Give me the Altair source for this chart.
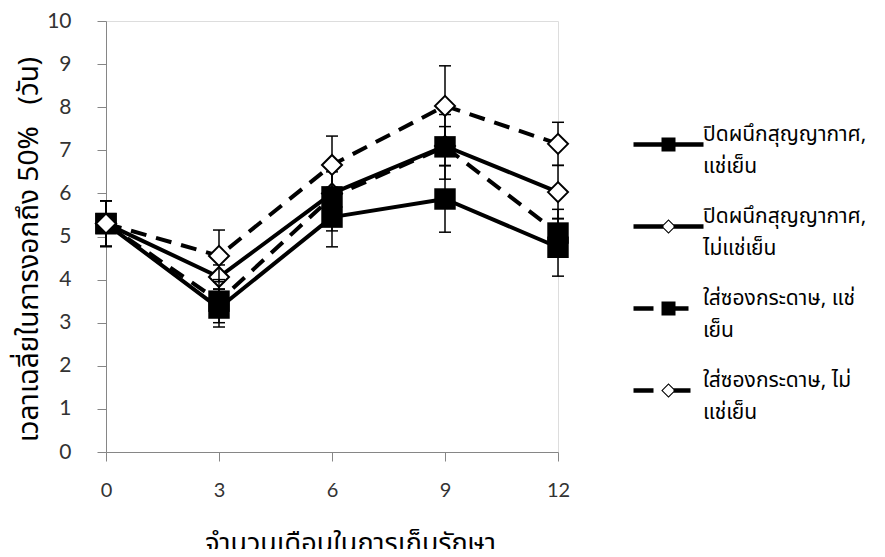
import altair as alt
import pandas as pd

# ---------------- data ----------------
months = [0, 3, 6, 9, 12]

series_names = [
    "ปิดผนึกสุญญากาศ, แช่เย็น",
    "ปิดผนึกสุญญากาศ, ไม่แช่เย็น",
    "ใส่ซองกระดาษ, แช่เย็น",
    "ใส่ซองกระดาษ, ไม่แช่เย็น",
]
legend_lines = [
    ["ปิดผนึกสุญญากาศ,", "แช่เย็น"],
    ["ปิดผนึกสุญญากาศ,", "ไม่แช่เย็น"],
    ["ใส่ซองกระดาษ, แช่", "เย็น"],
    ["ใส่ซองกระดาษ, ไม่", "แช่เย็น"],
]

vac_cold = [5.3, 3.34, 5.45, 5.87, 4.75]
vac_cold_err = [0.53, 0.44, 0.69, 0.77, 0.67]
vac_room = [5.3, 4.06, 6.0, 7.1, 6.03]
vac_room_err = [0.53, 0.28, 0.5, 0.45, 0.62]
paper_cold = [5.3, 3.5, 5.92, 7.08, 5.08]
paper_cold_err = [0.53, 0.5, 0.79, 0.75, 0.55]
paper_room = [5.3, 4.55, 6.66, 8.03, 7.15]
paper_room_err = [0.53, 0.6, 0.67, 0.93, 0.5]

x_ticks = [0, 3, 6, 9, 12]
y_ticks = list(range(0, 11))

values = [vac_cold, vac_room, paper_cold, paper_room]
errors = [vac_cold_err, vac_room_err, paper_cold_err, paper_room_err]

rows = []
for name, vals, errs in zip(series_names, values, errors):
    for m, v, e in zip(months, vals, errs):
        rows.append({"series": name, "month": m, "value": v, "err": e})
df = pd.DataFrame(rows)

# ---------------- styling ----------------
THAI = "Noto Sans Thai, Loma, Garuda, Noto Sans, DejaVu Sans, sans-serif"
NUM = "Lato, Carlito, Open Sans, sans-serif"
AXIS_GREY = "#868686"

styles = [
    dict(dash=None, shape="square", fill="black", stroke="black", sw=0, size=460),
    dict(dash=None, shape="diamond", fill="white", stroke="black", sw=2, size=400),
    dict(dash=[16, 10], shape="square", fill="black", stroke="black", sw=0, size=460),
    dict(dash=[16, 10], shape="diamond", fill="white", stroke="black", sw=2, size=400),
]

xs = alt.Scale(domain=[0, 12], nice=False, zero=False)
ys = alt.Scale(domain=[0, 10], nice=False)

x_axis = alt.Axis(
    values=x_ticks, title="จำนวนเดือนในการเก็บรักษา", grid=False,
    domainColor=AXIS_GREY, tickColor=AXIS_GREY, tickSize=9, tickWidth=1, domainWidth=1,
    labelFont=NUM, labelFontSize=20, labelColor="#333333", labelPadding=19, labelFlush=False,
    titleFont=THAI, titleFontSize=27, titleFontWeight="normal", titleColor="black",
    titleX=244, titleY=99, titleBaseline="alphabetic", titleAlign="center",
)
y_axis = alt.Axis(
    values=y_ticks, title="เวลาเฉลี่ยในการงอกถึง 50%\u00a0\u00a0 (วัน)", grid=False,
    domainColor=AXIS_GREY, tickColor=AXIS_GREY, tickSize=9, tickWidth=1, domainWidth=1,
    labelFont=NUM, labelFontSize=21, labelColor="#333333", labelPadding=26, labelFlush=False,
    titleFont=THAI, titleFontSize=28, titleFontWeight="normal", titleColor="black",
    titleX=-77, titleY=228, titleAngle=270, titleAlign="center", titleBaseline="middle",
)

X = alt.X("month:Q", scale=xs, axis=x_axis)


def Y(field):
    return alt.Y(f"{field}:Q", scale=ys, axis=y_axis)


base = alt.Chart(df).transform_calculate(
    lo="datum.value - datum.err", hi="datum.value + datum.err"
)

layers = []
for name, st in zip(series_names, styles):
    b = base.transform_filter(alt.datum.series == name)
    layers.append(
        b.mark_rule(color="black", strokeWidth=1.5).encode(x=X, y=Y("lo"), y2="hi:Q")
    )
    for f in ["lo", "hi"]:
        layers.append(
            b.mark_tick(color="black", orient="horizontal", size=12, thickness=1.5, opacity=1)
            .encode(x=X, y=Y(f))
        )
    line_kwargs = dict(color="black", strokeWidth=4, strokeJoin="round")
    if st["dash"]:
        line_kwargs["strokeDash"] = st["dash"]
    layers.append(b.mark_line(**line_kwargs).encode(x=X, y=Y("value")))
    layers.append(
        b.mark_point(
            shape=st["shape"], filled=True, fill=st["fill"], stroke=st["stroke"],
            strokeWidth=st["sw"], size=st["size"], opacity=1,
        ).encode(x=X, y=Y("value"))
    )

# ---------------- legend (built from the shape scale) ----------------
ring = "M0,-1.45L1.45,0L0,1.45L-1.45,0Z M0,-1.15L-1.15,0L0,1.15L1.15,0Z"
legend_paths = [
    "M-7,-0.45H7V0.45H-7Z M-1.4,-1.4H1.4V1.4H-1.4Z",
    "M-7,-0.45H-1V0.45H-7Z M1,-0.45H7V0.45H1Z " + ring,
    "M-7,-0.45H-3V0.45H-7Z M-1.4,-1.4H1.4V1.4H-1.4Z M1.4,-0.45H4V0.45H1.4Z",
    "M-7,-0.45H-3V0.45H-7Z M1,-0.45H4.4V0.45H1Z " + ring,
]

expr = "datum.label"
for name, lines in reversed(list(zip(series_names, legend_lines))):
    arr = "[" + ", ".join("'" + s + "'" for s in lines) + "]"
    expr = f"datum.label === '{name}' ? {arr} : ({expr})"

legend = alt.Legend(
    orient="none", legendX=522, legendY=113, title=None,
    symbolSize=100, symbolOffset=30, labelOffset=24,
    symbolStrokeWidth=0, symbolFillColor="black", symbolOpacity=1,
    labelFont=THAI, labelFontSize=21, labelColor="black", labelLimit=400,
    labelBaseline="bottom", rowPadding=28, padding=0, labelExpr=expr,
)

legend_layer = (
    alt.Chart(df)
    .transform_filter("false")
    .mark_point(filled=True, color="black", size=100, opacity=1)
    .encode(
        x=X, y=Y("value"),
        shape=alt.Shape("series:N", scale=alt.Scale(domain=series_names, range=legend_paths), legend=legend),
    )
)

chart = (
    alt.layer(*layers, legend_layer)
    .properties(
        width=452, height=431,
        autosize=alt.AutoSizeParams(type="none"),
        padding={"left": 98, "top": 13, "right": 319, "bottom": 97},
    )
    .configure_view(stroke=None)
    .configure(style={"guide-label": {"lineHeight": 32}})
)

chart.save("out.html", embed_options={"renderer": "svg", "actions": False})
